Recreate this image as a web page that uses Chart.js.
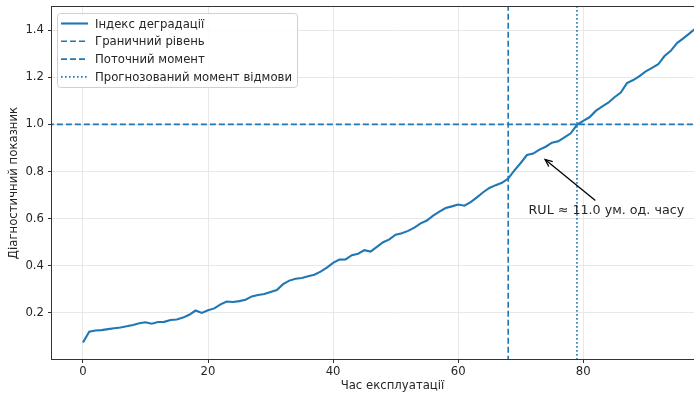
<!DOCTYPE html>
<html>
<head>
<meta charset="utf-8">
<script src="https://cdn.jsdelivr.net/npm/chart.js@4/dist/chart.umd.min.js"></script>
<style>
  html, body { margin: 0; padding: 0; background: #fff; overflow: hidden; width: 694px; height: 396px; }
  #wrap { position: absolute; left: 0; top: 0; width: 760px; height: 396px; }
</style>
</head>
<body>
<div id="wrap"><canvas id="c" width="760" height="396"></canvas></div>
<script>
// ---- data ----
const timeSteps = [0,1,2,3,4,5,6,7,8,9,10,11,12,13,14,15,16,17,18,19,20,21,22,23,24,25,26,27,28,29,30,31,32,33,34,35,36,37,38,39,40,41,42,43,44,45,46,47,48,49,50,51,52,53,54,55,56,57,58,59,60,61,62,63,64,65,66,67,68,69,70,71,72,73,74,75,76,77,78,79,80,81,82,83,84,85,86,87,88,89,90,91,92,93,94,95,96,97,98,99];
const degradationIndex = [
  0.074,0.120,0.125,0.127,0.131,0.135,0.138,0.143,0.149,0.156,
  0.160,0.154,0.161,0.162,0.170,0.172,0.180,0.192,0.210,0.200,
  0.211,0.219,0.236,0.248,0.246,0.250,0.256,0.270,0.276,0.280,
  0.289,0.297,0.322,0.337,0.345,0.348,0.355,0.362,0.375,0.392,
  0.412,0.426,0.427,0.445,0.451,0.466,0.460,0.480,0.500,0.512,
  0.532,0.538,0.548,0.562,0.580,0.592,0.613,0.630,0.645,0.652,
  0.660,0.655,0.670,0.690,0.712,0.730,0.742,0.752,0.770,0.805,
  0.836,0.870,0.876,0.893,0.905,0.922,0.928,0.945,0.962,0.998,
  1.015,1.030,1.057,1.075,1.092,1.115,1.135,1.175,1.188,1.205,
  1.225,1.240,1.255,1.290,1.312,1.345,1.365,1.386,1.408,1.430
];
const thresholdLevel = 1.0;
const currentMoment = 68;
const failureMoment = 79;
const rulValue = 11.0;
const xTickValues = [0, 20, 40, 60, 80];
const yTickValues = [0.2, 0.4, 0.6, 0.8, 1.0, 1.2, 1.4];
const seriesLabels = ['Індекс деградації', 'Граничний рівень', 'Поточний момент', 'Прогнозований момент відмови'];
const axisTitles = { x: 'Час експлуатації', y: 'Діагностичний показник' };
const annotationText = 'RUL ≈ ' + rulValue.toFixed(1) + ' ум. од. часу';
const annotationArrowHead = { x: 73.9, y: 0.851 };
const annotationTextPos = { x: 83.7, y: 0.634 };

// ---- styles ----
const BLUE = '#1f77b4';
const FONT = 'DejaVu Sans';
const TXT = '#262626';

const mainPoints = timeSteps.map((t, i) => ({ x: t, y: degradationIndex[i] }));

const framePlugin = {
  id: 'frameAndExtras',
  afterDatasetsDraw(chart) {
    const ctx = chart.ctx;
    const a = chart.chartArea;
    const xs = chart.scales.x, ys = chart.scales.y;
    ctx.save();
    // spines
    ctx.strokeStyle = '#333';
    ctx.lineWidth = 1;
    ctx.strokeRect(Math.round(a.left) - 0.5, Math.round(a.top) - 0.5, Math.round(a.right - a.left) + 1, Math.round(a.bottom - a.top) + 1);

    // annotation
    const hx = xs.getPixelForValue(annotationArrowHead.x), hy = ys.getPixelForValue(annotationArrowHead.y);
    const tx = xs.getPixelForValue(annotationTextPos.x), ty = ys.getPixelForValue(annotationTextPos.y);
    ctx.font = '12.7px "' + FONT + '"';
    ctx.fillStyle = TXT;
    ctx.textAlign = 'center';
    ctx.textBaseline = 'middle';
    ctx.fillText(annotationText, tx, ty);
    const sx = tx - 11, sy = ty - 10;
    ctx.strokeStyle = '#000';
    ctx.lineWidth = 1.3;
    ctx.beginPath();
    ctx.moveTo(sx, sy);
    ctx.lineTo(hx, hy);
    ctx.stroke();
    const ang = Math.atan2(hy - sy, hx - sx);
    const L = 8, w = 0.4;
    ctx.beginPath();
    ctx.moveTo(hx - L * Math.cos(ang - w), hy - L * Math.sin(ang - w));
    ctx.lineTo(hx, hy);
    ctx.lineTo(hx - L * Math.cos(ang + w), hy - L * Math.sin(ang + w));
    ctx.stroke();

    // legend
    const bx = 57.5, by = 13.5, bw = 240, bh = 74, r = 3;
    ctx.fillStyle = 'rgba(255,255,255,0.85)';
    ctx.strokeStyle = '#d0d0d0';
    ctx.lineWidth = 1;
    ctx.beginPath();
    ctx.moveTo(bx + r, by);
    ctx.lineTo(bx + bw - r, by); ctx.arcTo(bx + bw, by, bx + bw, by + r, r);
    ctx.lineTo(bx + bw, by + bh - r); ctx.arcTo(bx + bw, by + bh, bx + bw - r, by + bh, r);
    ctx.lineTo(bx + r, by + bh); ctx.arcTo(bx, by + bh, bx, by + bh - r, r);
    ctx.lineTo(bx, by + r); ctx.arcTo(bx, by, bx + r, by, r);
    ctx.closePath();
    ctx.fill(); ctx.stroke();
    chart.data.datasets.forEach((ds, i) => {
      const yy = 23.5 + i * 17.8;
      ctx.strokeStyle = ds.borderColor;
      ctx.lineWidth = ds.borderWidth;
      ctx.setLineDash(ds.borderDash || []);
      ctx.beginPath();
      ctx.moveTo(61, yy); ctx.lineTo(88, yy);
      ctx.stroke();
      ctx.setLineDash([]);
      ctx.fillStyle = TXT;
      ctx.font = '11.7px "' + FONT + '"';
      ctx.textAlign = 'left';
      ctx.textBaseline = 'middle';
      ctx.fillText(ds.label, 95, yy + 1);
    });
    ctx.restore();
  }
};

new Chart(document.getElementById('c'), {
  type: 'line',
  data: {
    datasets: [
      { label: seriesLabels[0], data: mainPoints, borderColor: BLUE, borderWidth: 2.1, pointRadius: 0, tension: 0, clip: 0 },
      { label: seriesLabels[1], data: [{ x: -20, y: thresholdLevel }, { x: 200, y: thresholdLevel }], borderColor: BLUE, borderWidth: 1.6, borderDash: [6, 3], pointRadius: 0, clip: 0 },
      { label: seriesLabels[2], data: [{ x: currentMoment, y: -1 }, { x: currentMoment, y: 3 }], borderColor: BLUE, borderWidth: 1.6, borderDash: [6, 3], pointRadius: 0, clip: 0 },
      { label: seriesLabels[3], data: [{ x: failureMoment, y: -1 }, { x: failureMoment, y: 3 }], borderColor: BLUE, borderWidth: 1.6, borderDash: [1.6, 2.4], pointRadius: 0, clip: 0 }
    ]
  },
  options: {
    responsive: false,
    animation: false,
    devicePixelRatio: 1,
    layout: { padding: { left: 0, top: 7, right: 27, bottom: 0 } },
    plugins: { legend: { display: false }, tooltip: { enabled: false }, title: { display: false } },
    scales: {
      x: {
        type: 'linear', min: -4.95, max: 103.95,
        afterBuildTicks: s => { s.ticks = xTickValues.map(v => ({ value: v })); },
        afterFit: s => { s.height = 37; s.paddingLeft = 0; s.paddingRight = 0; },
        grid: { color: '#e8e8e8', lineWidth: 1, tickLength: 4, tickColor: '#333', drawTicks: true },
        border: { display: false },
        ticks: { color: TXT, font: { family: FONT, size: 11.7 }, padding: 2, maxRotation: 0, callback: v => String(v) },
        title: { display: true, text: axisTitles.x, color: TXT, font: { family: FONT, size: 11.7 }, padding: { top: 3, bottom: 3 } }
      },
      y: {
        type: 'linear', min: 0.0043, max: 1.498,
        afterBuildTicks: s => { s.ticks = yTickValues.map(v => ({ value: v })); },
        afterFit: s => { s.width = 52; s.paddingTop = 0; s.paddingBottom = 0; },
        grid: { color: '#e8e8e8', lineWidth: 1, tickLength: 4, tickColor: '#333', drawTicks: true },
        border: { display: false },
        ticks: { color: TXT, font: { family: FONT, size: 11.7 }, padding: 4, callback: v => Number(v).toFixed(1) },
        title: { display: true, text: axisTitles.y, color: TXT, font: { family: FONT, size: 11.7 }, padding: { top: 7, bottom: 0 } }
      }
    }
  },
  plugins: [framePlugin]
});
</script>
</body>
</html>
